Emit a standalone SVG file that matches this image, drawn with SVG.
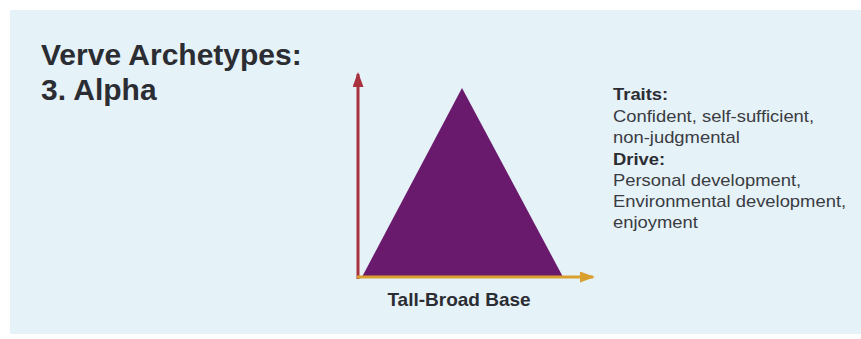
<svg xmlns="http://www.w3.org/2000/svg" width="861" height="339" viewBox="0 0 861 339">
<defs>
<style>
.title{font-family:"Liberation Sans",Arial,sans-serif;font-weight:bold;font-size:30px;fill:#2b2d33}
.head{font-family:"Liberation Sans",Arial,sans-serif;font-weight:bold;font-size:16px;fill:#2b2d33}
.body{font-family:"Liberation Sans",Arial,sans-serif;font-size:16px;fill:#3a3c42}
.label{font-family:"Liberation Sans",Arial,sans-serif;font-weight:bold;font-size:19px;fill:#2b2d33}
</style>
<marker id="arrRed" markerWidth="15" markerHeight="11" refX="13" refY="5.5" orient="auto" markerUnits="userSpaceOnUse" viewBox="0 0 15 11">
<path d="M0,0 L15,5.5 L0,11 z" fill="#a8323e"/>
</marker>
<marker id="arrOrange" markerWidth="15" markerHeight="11" refX="13" refY="5.5" orient="auto" markerUnits="userSpaceOnUse" viewBox="0 0 15 11">
<path d="M0,0 L15,5.5 L0,11 z" fill="#d9a030"/>
</marker>
</defs>
<rect x="0" y="0" width="861" height="339" fill="#ffffff"/>
<rect x="10" y="10" width="851" height="324" fill="#e5f2f8"/>
<g id="title">
<text class="title" x="41" y="65">Verve Archetypes:</text>
<text class="title" x="41" y="100">3. Alpha</text>
</g>
<g id="triangle">
<polygon points="462,88 362,277 563,277" fill="#6a1a6c"/>
</g>
<g id="connectors">
<line x1="358" y1="279" x2="358" y2="74" stroke="#a8323e" stroke-width="3" marker-end="url(#arrRed)"/>
<line x1="357" y1="277" x2="593" y2="277" stroke="#d9a030" stroke-width="3" marker-end="url(#arrOrange)"/>
</g>
<g id="axis-label">
<text class="label" x="459" y="306" text-anchor="middle">Tall-Broad Base</text>
</g>
<g id="traits" transform="translate(613,0) scale(1.15,1)">
<text class="head" x="0" y="100">Traits:</text>
<text class="body" x="0" y="122">Confident, self-sufficient,</text>
<text class="body" x="0" y="143">non-judgmental</text>
</g>
<g id="drive" transform="translate(613,0) scale(1.15,1)">
<text class="head" x="0" y="165">Drive:</text>
<text class="body" x="0" y="186">Personal development,</text>
<text class="body" x="0" y="207">Environmental development,</text>
<text class="body" x="0" y="228">enjoyment</text>
</g>
</svg>
